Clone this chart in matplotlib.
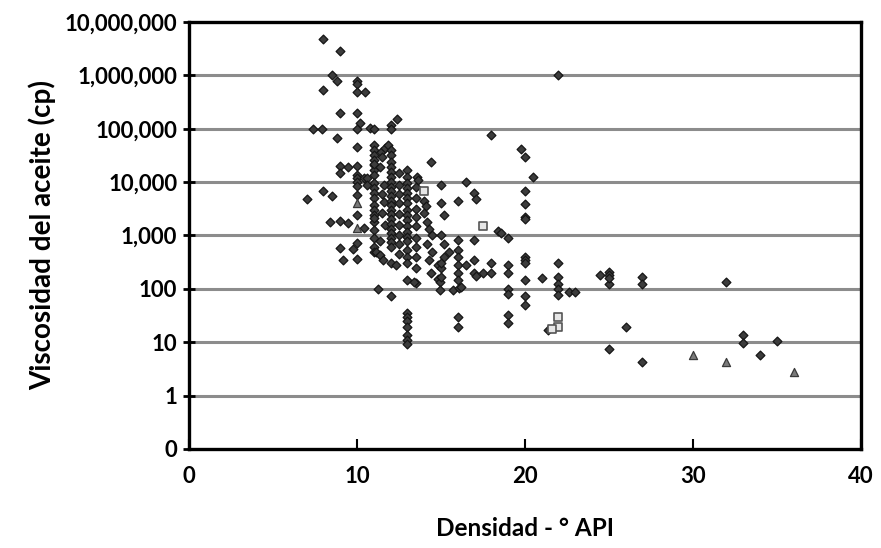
import numpy as np
import matplotlib.pyplot as plt
from matplotlib.ticker import FixedLocator, NullLocator

plt.rcParams['font.family'] = ['Lato', 'DejaVu Sans']
plt.rcParams['font.weight'] = 'bold'

# crudos pesados: densidad API vs viscosidad (cp)
api_rombo = [
    8, 9, 8.5, 8.8, 8, 10, 10, 10, 10.5, 9, 10, 12.4, 10.2, 7.4, 7.9, 10, 10.8, 11, 12, 12,
    8.8, 10, 11, 22, 18, 19.8, 20, 20.5, 20, 20, 20, 20, 14.4,
    7, 8, 8.5, 9, 9, 9.45, 8.4, 9, 9.45, 10, 10.45, 9, 9.15, 9.75, 10, 10,
    10, 10, 10, 10, 10, 10.4, 10.6, 10, 10.6,
    11, 11, 11, 11, 11, 11, 11, 11, 11, 11, 11, 11, 11, 11, 11, 11, 11,
    11, 11.15, 11.35, 11.55, 11.25, 11, 11,
    11.45, 11.65, 11.85, 11.5, 11.4, 11.6, 11.5, 11.6, 11.5, 11.7, 11.4,
    12, 12, 12, 12, 12, 12, 12, 12, 12, 12, 12, 12, 12, 12, 12, 12, 12, 12, 12, 12, 12, 12, 12,
    12.5, 12.5, 12.5, 12.5, 12.5, 12.5, 12.5, 12.5, 12.5, 12.3,
    13, 13, 13, 13, 13, 13, 13, 13, 13, 13, 13, 13, 13, 13, 13, 13, 13, 13,
    13, 13, 13, 13, 13, 13, 13,
    13.55, 13.65, 13.5, 13.4, 13.5, 13.5, 13.5, 13.5, 13.5, 13.5, 13.5, 13.5, 13.5,
    14, 14.1, 14, 14.2, 14.3, 14.5, 14.2, 14.5, 14.3, 14.8, 14.4, 14.8,
    15, 15, 15.2, 15, 15.2, 15.5, 15.2, 15, 14.95, 14.95, 15.7, 15, 15,
    16, 16.5, 17, 17.1, 16, 16, 16, 16, 16, 16, 16.1, 16.2, 16, 16, 16.5,
    17, 17, 17, 17.1, 17.5, 18, 18, 18.4, 19, 18.6, 19, 19, 19, 19, 19, 19,
    20, 20, 20, 20, 20, 20, 21, 22, 22, 22, 22, 22, 22.6, 23, 21.4,
    24.5, 25, 25, 25, 25, 27, 27, 32, 26, 25, 27, 33, 33, 35, 34,
]
visc_rombo = [
    4.8e6, 2.9e6, 1.0e6, 7.8e5, 5.4e5, 8.0e5, 7.0e5, 4.8e5, 4.8e5, 1.95e5, 1.95e5, 1.5e5, 1.26e5,
    1.0e5, 1.0e5, 1.0e5, 1.05e5, 1.0e5, 1.15e5, 1.0e5,
    68000, 45000, 50000, 1.0e6, 76000, 42000, 29000, 12300, 6900, 3900, 2200, 2000, 24000,
    4900, 6900, 5400, 20000, 15000, 19500, 1800, 1900, 1700, 2400, 1400, 575, 350, 550, 370, 720,
    20000, 13500, 11700, 10000, 8300, 11700, 12000, 5800, 9000,
    40000, 32000, 26000, 21000, 17000, 13800, 9500, 7800, 6200, 5000, 3700, 3000, 2450, 1800,
    1260, 620, 22000,
    500, 500, 440, 350, 100, 900, 2100,
    37000, 43000, 50000, 30000, 19000, 9000, 6000, 4200, 2600, 1600, 800,
    40000, 32000, 24000, 19000, 15500, 12500, 10000, 8200, 6700, 5500, 4500, 3700, 3000, 2500,
    2000, 1650, 1350, 1100, 900, 740, 620, 300, 75,
    15000, 9000, 6000, 4000, 2500, 1600, 1000, 700, 450, 280,
    17000, 12600, 9500, 7800, 6200, 5000, 4000, 3000, 2450, 1950, 1480, 1180, 950, 780, 540,
    400, 310, 148,
    36, 30, 24.5, 19, 13.8, 11, 9.3,
    12600, 11000, 131, 137, 8000, 5000, 3200, 2200, 1500, 900, 600, 400, 250,
    4500, 3500, 2600, 1800, 1300, 1000, 700, 500, 350, 280, 200, 150,
    8900, 4000, 2400, 1000, 700, 500, 400, 245, 137, 94, 94, 300, 170,
    4500, 10000, 6200, 4900, 830, 540, 400, 280, 195, 148, 103, 110, 30, 19, 280,
    830, 350, 195, 175, 195, 300, 195, 1200, 910, 1100, 280, 195, 98, 80, 32, 23,
    400, 350, 310, 148, 75, 50, 162, 300, 170, 123, 100, 78, 87, 87, 17,
    178, 205, 178, 122, 160, 165, 122, 134, 19.5, 7.5, 4.3, 13.5, 9.6, 10.7, 5.8,
]

api_cuadro = [14, 17.5, 22, 22, 21.6]
visc_cuadro = [6800, 1500, 29.5, 19.5, 18]

api_triang = [10, 10, 30, 32, 36]
visc_triang = [4000, 1400, 5.8, 4.3, 2.8]

y_ticks = [0.1, 1, 10, 100, 1e3, 1e4, 1e5, 1e6, 1e7]
y_labels = ['0', '1', '10', '100', '1,000', '10,000', '100,000', '1,000,000', '10,000,000']
x_ticks = [0, 10, 20, 30, 40]

fig = plt.figure(figsize=(8.81, 5.48), dpi=100)
ax = fig.add_axes([0.2145, 0.1807, 0.7625, 0.7792])
ax.set_yscale('log')
ax.set_xlim(0, 40)
ax.set_ylim(0.1, 1e7)

for yv in y_ticks[1:-1]:
    ax.axhline(yv, color='#8c8c8c', lw=2.2, zorder=1)

ax.scatter(api_rombo, visc_rombo, marker='D', s=20, facecolor='#3c3c3c',
           edgecolor='#151515', linewidths=0.9, zorder=3)
ax.scatter(api_cuadro, visc_cuadro, marker='s', s=30, facecolor='#e6e6e6',
           edgecolor='#555555', linewidths=1.2, zorder=4)
ax.scatter(api_triang, visc_triang, marker='^', s=34, facecolor='#7a7a7a',
           edgecolor='#3a3a3a', linewidths=0.9, zorder=4)

ax.yaxis.set_major_locator(FixedLocator(y_ticks))
ax.yaxis.set_minor_locator(NullLocator())
ax.set_yticklabels(y_labels)
ax.set_xticks(x_ticks)

for s in ax.spines.values():
    s.set_linewidth(2.4)
    s.set_color('black')

ax.tick_params(axis='y', direction='inout', length=9, width=2, labelsize=16, pad=4)
ax.tick_params(axis='x', direction='in', length=7, width=1.5, labelsize=16, pad=12)
for lab in ax.get_xticklabels() + ax.get_yticklabels():
    lab.set_fontweight('bold')

ax.set_ylabel('Viscosidad del aceite (cp)', fontsize=20, fontweight='bold', labelpad=6)
ax.set_xlabel('Densidad - ° API', fontsize=17.5, fontweight='bold', labelpad=22)

fig.savefig('out.png', dpi=100)
